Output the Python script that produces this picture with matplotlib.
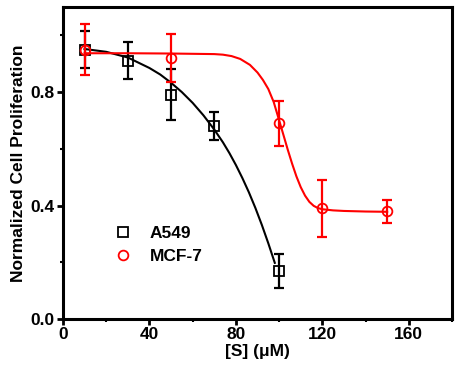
import matplotlib
matplotlib.use("Agg")
import matplotlib.pyplot as plt
from matplotlib.ticker import MultipleLocator

plt.rcParams['font.family'] = ['Liberation Sans', 'DejaVu Sans']
plt.rcParams['font.weight'] = 'bold'

# A549 data
a549_x = [10, 30, 50, 70, 100]
a549_y = [0.95, 0.91, 0.79, 0.68, 0.17]
a549_err = [0.065, 0.065, 0.09, 0.05, 0.06]

# MCF-7 data
mcf7_x = [10, 50, 100, 120, 150]
mcf7_y = [0.95, 0.92, 0.69, 0.39, 0.38]
mcf7_err = [0.09, 0.085, 0.08, 0.10, 0.04]

# fitted curves
a549_fit_x = [10, 20, 30, 40, 45, 50, 55, 60, 65, 70, 74, 77, 80, 83, 86, 89, 92, 95, 98]
a549_fit_y = [0.952, 0.942, 0.922, 0.885, 0.862, 0.833, 0.800, 0.762, 0.718, 0.668,
              0.623, 0.585, 0.543, 0.497, 0.447, 0.392, 0.332, 0.267, 0.198]

mcf7_fit_x = [10, 30, 50, 70, 74, 78, 82, 86.5, 90, 92.5, 95, 97.5, 100, 102, 104, 106, 108,
              110, 112, 114, 116, 118, 120, 125, 130, 140, 150]
mcf7_fit_y = [0.937, 0.937, 0.936, 0.934, 0.932, 0.927, 0.917, 0.896, 0.869, 0.843, 0.811,
              0.765, 0.701, 0.649, 0.597, 0.548, 0.503, 0.465, 0.435, 0.413, 0.399,
              0.391, 0.387, 0.383, 0.381, 0.379, 0.378]

fig = plt.figure(figsize=(4.75, 3.77), dpi=100)
ax = fig.add_axes([0.1326, 0.1538, 0.8190, 0.8276])

ax.plot(a549_fit_x, a549_fit_y, color='black', lw=1.5, zorder=2)
ax.errorbar(a549_x, a549_y, yerr=a549_err, fmt='none', ecolor='black', elinewidth=1.6,
            capsize=3.5, capthick=1.6, zorder=3)
a549_h, = ax.plot(a549_x, a549_y, ls='none', marker='s', ms=6.5, mfc='none', mec='black',
                  mew=1.3, zorder=4, label='A549')

ax.plot(mcf7_fit_x, mcf7_fit_y, color='red', lw=1.5, zorder=5)
ax.errorbar(mcf7_x, mcf7_y, yerr=mcf7_err, fmt='none', ecolor='red', elinewidth=1.6,
            capsize=3.5, capthick=1.6, zorder=6)
mcf7_h, = ax.plot(mcf7_x, mcf7_y, ls='none', marker='o', ms=7, mfc='none', mec='red',
                  mew=1.3, zorder=7, label='MCF-7')

ax.set_xlim(0, 180)
ax.set_ylim(0, 1.1)
ax.xaxis.set_major_locator(MultipleLocator(40))
ax.xaxis.set_minor_locator(MultipleLocator(20))
ax.yaxis.set_major_locator(MultipleLocator(0.4))
ax.yaxis.set_minor_locator(MultipleLocator(0.2))
ax.set_xticks([0, 40, 80, 120, 160])

for s in ax.spines.values():
    s.set_linewidth(2.2)
ax.tick_params(which='major', direction='out', length=4, width=2, labelsize=12.5, pad=2)
ax.tick_params(which='minor', direction='out', length=2.5, width=1.5)
ax.yaxis.set_major_formatter(plt.FuncFormatter(lambda v, p: f"{v:.1f}"))
for lab in ax.get_xticklabels() + ax.get_yticklabels():
    lab.set_fontweight('bold')

ax.set_xlabel('[S] (μM)', fontsize=12.5, fontweight='bold', labelpad=1)
ax.set_ylabel('Normalized Cell Proliferation', fontsize=12.5, fontweight='bold', labelpad=3)

leg = ax.legend(handles=[a549_h, mcf7_h], loc='upper left', bbox_to_anchor=(0.115, 0.32),
                frameon=False, fontsize=12.5, handlelength=1.0, handletextpad=1.0,
                labelspacing=0.45, borderaxespad=0)
for t in leg.get_texts():
    t.set_fontweight('bold')

fig.savefig('out.png', dpi=100)
